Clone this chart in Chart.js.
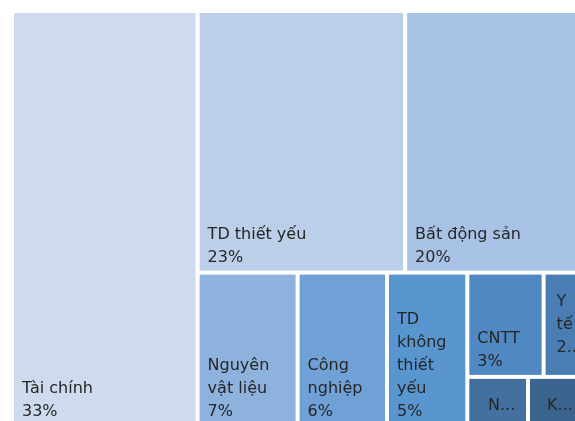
<!DOCTYPE html>
<html>
<head>
<meta charset="utf-8">
<script src="https://cdn.jsdelivr.net/npm/chart.js@4.4.1/dist/chart.umd.min.js"></script>
<style>
  html, body { margin: 0; padding: 0; background: #fff; overflow: hidden; }
  #wrap { position: absolute; left: 0; top: 0; width: 600px; height: 440px; }
</style>
</head>
<body>
<div id="wrap"><canvas id="chartNganh" width="600" height="440"></canvas></div>
<script>
// ================================
//  TREEMAP – Tỷ trọng theo ngành
// ================================
const nganh = ['Tài chính', 'TD thiết yếu', 'Bất động sản', 'Nguyên vật liệu', 'Công nghiệp',
               'TD không thiết yếu', 'CNTT', 'Y tế', 'Năng lượng', 'Khác'];
const tyTrong = [33, 23.2, 20, 6.6, 5.9, 5.3, 3.4, 1.8, 1.3, 1.2];
const mauO = ['#cedbee', '#bbcfe8', '#a8c2e6', '#8eb2de', '#6fa1d6',
              '#5996cf', '#4f88c2', '#4a7db4', '#43709e', '#3b658f'];

// thứ tự cắt ô: 'x' = xếp ngang, 'y' = xếp dọc, số = chỉ số ngành
const cay = ['x', 0, ['y', ['x', 1, 2], ['x', 3, 4, 5, ['y', ['x', 6, 7], ['x', 8, 9]]]]];

function tong(node) {
    if (typeof node === 'number') return tyTrong[node];
    return node.slice(1).reduce((s, c) => s + tong(c), 0);
}

function chia(node, r, out) {
    if (typeof node === 'number') { out.push({ i: node, x0: r.x0, x1: r.x1, y0: r.y0, y1: r.y1 }); return; }
    const ngang = node[0] === 'x';
    const total = tong(node);
    let pos = ngang ? r.x0 : r.y0;
    const len = ngang ? r.x1 - r.x0 : r.y1 - r.y0;
    node.slice(1).forEach(k => {
        const d = len * tong(k) / total;
        const sub = ngang ? { x0: pos, x1: pos + d, y0: r.y0, y1: r.y1 }
                          : { x0: r.x0, x1: r.x1, y0: pos, y1: pos + d };
        chia(k, sub, out);
        pos += d;
    });
}

const oTreemap = [];
chia(cay, { x0: 0, x1: 1, y0: 0, y1: 1 }, oTreemap);

function ngatDong(ctx, text, maxW) {
    const words = text.split(' ');
    const lines = [];
    let cur = '';
    words.forEach(w => {
        const thu = cur ? cur + ' ' + w : w;
        if (cur && ctx.measureText(thu).width > maxW) { lines.push(cur); cur = w; }
        else cur = thu;
    });
    if (cur) lines.push(cur);
    return lines;
}

const treemapPlugin = {
    id: 'treemapVe',
    afterDraw(chart) {
        const ctx = chart.ctx;
        const sx = chart.scales.x, sy = chart.scales.y;
        const pad = 10, lh = 23;
        ctx.save();
        ctx.font = '16px "DejaVu Sans"';
        oTreemap.forEach(t => {
            const x0 = sx.getPixelForValue(t.x0), x1 = sx.getPixelForValue(t.x1);
            const y0 = sy.getPixelForValue(t.y0), y1 = sy.getPixelForValue(t.y1);
            ctx.fillStyle = mauO[t.i];
            ctx.fillRect(x0 + 2, y0 + 2, x1 - x0 - 4, y1 - y0 - 4);

            // nhãn
            const w = x1 - x0, h = y1 - y0, maxW = w - 2 * pad;
            const lines = ngatDong(ctx, nganh[t.i], maxW);
            lines.push(Math.round(tyTrong[t.i]) + '%');
            ctx.fillStyle = '#262626';
            ctx.textAlign = 'left';
            if (lines.length * lh + 10 > h) {
                ctx.textAlign = 'center';
                ctx.textBaseline = 'middle';
                ctx.fillText(nganh[t.i].charAt(0) + '...', (x0 + x1) / 2 + 4, (y0 + y1) / 2 + 4);
            } else if (lines.some(l => ctx.measureText(l).width > maxW)) {
                ctx.textBaseline = 'middle';
                const cy = (y0 + y1) / 2;
                lines.forEach((l, k) => {
                    const s = ctx.measureText(l).width > maxW ? l.charAt(0) + '...' : l;
                    ctx.fillText(s, x0 + pad + 3, cy + (k - (lines.length - 1) / 2) * lh);
                });
            } else {
                ctx.textBaseline = 'alphabetic';
                const yCuoi = y1 - 11;
                lines.forEach((l, k) => {
                    ctx.fillText(l, x0 + pad, yCuoi - (lines.length - 1 - k) * lh);
                });
            }
        });
        ctx.restore();
    }
};

new Chart(document.getElementById('chartNganh').getContext('2d'), {
    type: 'scatter',
    data: { datasets: [{ data: [] }] },
    options: {
        responsive: false,
        animation: false,
        layout: { padding: { left: 12, top: 11, right: 16, bottom: 13 } },
        plugins: { legend: { display: false }, tooltip: { enabled: false } },
        scales: {
            x: { type: 'linear', min: 0, max: 1, display: false },
            y: { type: 'linear', min: 0, max: 1, reverse: true, display: false }
        }
    },
    plugins: [treemapPlugin]
});
</script>
</body>
</html>
